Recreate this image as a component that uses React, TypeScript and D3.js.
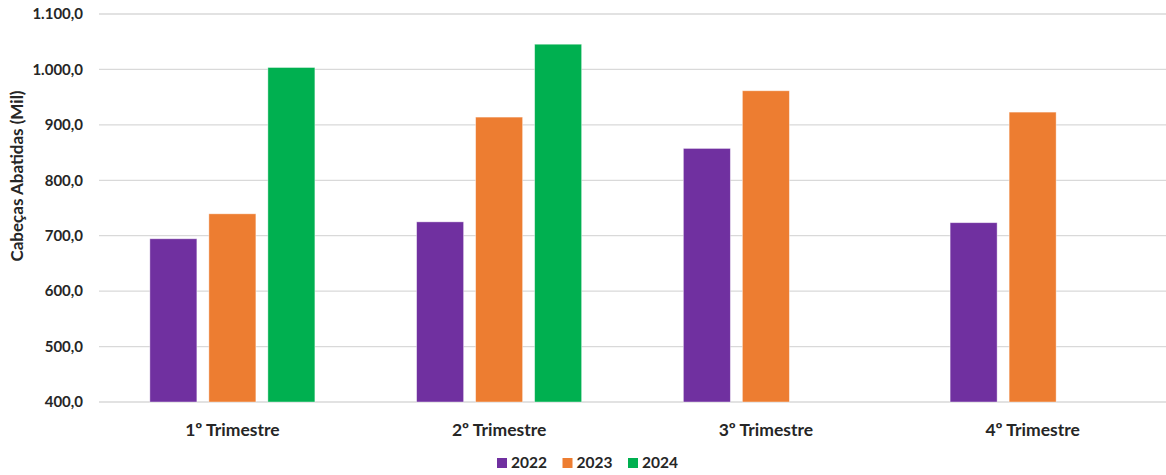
import React from "react";
import * as d3 from "d3";

const quarters = ["1º Trimestre", "2º Trimestre", "3º Trimestre", "4º Trimestre"];
const years = ["2022", "2023", "2024"];
const values2022 = [694.5, 725.0, 857.5, 723.5];
const values2023 = [739.5, 914.0, 961.5, 923.0];
const values2024: (number | null)[] = [1003.5, 1045.5, null, null];
const yTicks = [400, 500, 600, 700, 800, 900, 1000, 1100];
const colors = ["#7030A0", "#ED7D31", "#00B050"];

const W = 1166;
const H = 475;
const FONT = "Lato, 'Open Sans', sans-serif";

const fmt = (v: number) => {
  const s = v.toFixed(1).replace(".", ",");
  const [i, d] = s.split(",");
  return i.replace(/\B(?=(\d{3})+(?!\d))/g, ".") + "," + d;
};

export default function App() {
  const series = [values2022, values2023, values2024];
  const x0 = d3.scaleBand<string>().domain(quarters).range([99, 1166]).padding(0);
  const x1 = d3
    .scaleBand<string>()
    .domain(years)
    .range([0, x0.bandwidth()])
    .paddingInner(0.2034)
    .paddingOuter(0.862);
  const y = d3.scaleLinear().domain([400, 1100]).range([402, 14]);

  return (
    <svg
      width={W}
      height={H}
      style={{ position: "absolute", left: 0, top: 0, background: "#fff" }}
      fontFamily={FONT}
    >
      {yTicks.map((t) => (
        <g key={t}>
          <line x1={99} x2={1166} y1={y(t)} y2={y(t)} stroke="#D9D9D9" strokeWidth={1.3} />
          <text
            x={83}
            y={y(t)}
            dy="0.35em"
            textAnchor="end"
            fontSize={15}
            fontWeight="bold"
            fill="#262626"
          >
            {fmt(t)}
          </text>
        </g>
      ))}
      <text
        transform={`translate(23,176) rotate(-90)`}
        textAnchor="middle"
        fontSize={17}
        fontWeight="bold"
        fill="#262626"
      >
        Cabeças Abatidas (Mil)
      </text>
      {quarters.map((q, qi) => (
        <g key={q} transform={`translate(${x0(q)},0)`}>
          {years.map((yr, si) => {
            const v = series[si][qi];
            if (v == null) return null;
            return (
              <rect
                key={yr}
                x={x1(yr)}
                y={y(v)}
                width={x1.bandwidth()}
                height={y(400) - y(v)}
                fill={colors[si]}
                stroke="#ffffff"
                strokeOpacity={0.5}
                strokeWidth={0.8}
              />
            );
          })}
          <text
            x={x0.bandwidth() / 2}
            y={436}
            textAnchor="middle"
            fontSize={17.5}
            fontWeight="bold"
            fill="#262626"
          >
            {q}
          </text>
        </g>
      ))}
      {years.map((yr, i) => (
        <g key={yr} transform={`translate(${497 + i * 65.5},0)`}>
          <rect x={0} y={458} width={10} height={10} fill={colors[i]} />
          <text x={14} y={468} fontSize={15.5} fontWeight="bold" fill="#262626">
            {yr}
          </text>
        </g>
      ))}
    </svg>
  );
}
